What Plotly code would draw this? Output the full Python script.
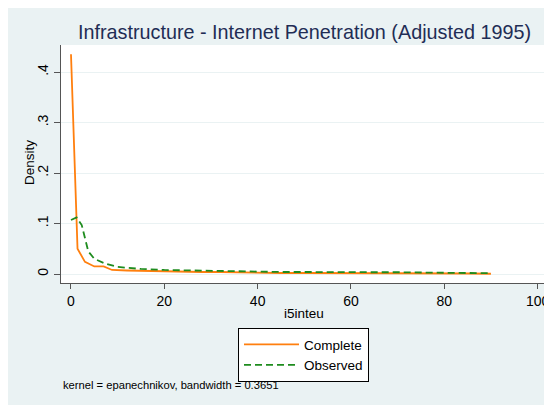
import plotly.graph_objects as go

# Data
x_complete = [0, 1.4, 3.0, 5.0, 7.0, 8.8, 12, 16, 20, 25, 28, 32, 36, 40, 45, 50, 55, 60, 65, 70, 75, 80, 85, 90]
y_complete = [0.435, 0.05, 0.024, 0.015, 0.015, 0.008, 0.007, 0.006, 0.005, 0.0035, 0.004, 0.004, 0.003, 0.002, 0.002, 0.002, 0.002, 0.002, 0.002, 0.002, 0.002, 0.0015, 0.001, 0.0005]

x_observed = [0, 1.2, 2.3, 3.7, 5.0, 7.5, 10, 15, 20, 25, 30, 35, 40, 45, 50, 55, 60, 65, 70, 75, 80, 85, 90]
y_observed = [0.107, 0.112, 0.097, 0.045, 0.03, 0.02, 0.014, 0.01, 0.008, 0.007, 0.006, 0.005, 0.004, 0.004, 0.004, 0.0035, 0.0035, 0.0035, 0.0035, 0.003, 0.003, 0.002, 0.0015]

x_ticks = [0, 20, 40, 60, 80, 100]
y_ticks = [0, 0.1, 0.2, 0.3, 0.4]
y_tick_labels = ["0", ".1", ".2", ".3", ".4"]

title_text = "Infrastructure - Internet Penetration (Adjusted 1995)"
x_title = "i5inteu"
y_title = "Density"
note_text = "kernel = epanechnikov, bandwidth = 0.3651"

BG = "#EAF2F3"
FONT = "Liberation Sans, Arial, sans-serif"

# page body adds an 8px offset; figure is sized to fill the rest of the window
W, H = 544, 397
L, R, T, B = 53, 538, 37, 275

fig = go.Figure()
fig.add_trace(go.Scatter(x=x_complete, y=y_complete, mode="lines", name="Complete",
                         line=dict(color="#FF7F0E", width=1.8)))
fig.add_trace(go.Scatter(x=x_observed, y=y_observed, mode="lines", name="Observed",
                         line=dict(color="#1E8C1E", width=1.8, dash="7px,4px")))

fig.update_layout(
    template="none",
    width=W, height=H,
    margin=dict(l=L, r=W - R, t=T, b=H - B, autoexpand=False),
    paper_bgcolor=BG, plot_bgcolor="white",
    font=dict(family=FONT, color="#000000", size=13),
    title=dict(text=title_text, x=296.5 / W, xref="container", xanchor="center",
               y=1 - 24 / H, yref="container", yanchor="middle",
               font=dict(size=19.8, color="#1F2D55", family=FONT)),
    showlegend=True,
    legend=dict(x=0.5, xanchor="center", y=(B - 320) / (B - T), yanchor="top",
                bgcolor="white", bordercolor="#000000", borderwidth=1,
                font=dict(size=13.5, family=FONT), itemwidth=55,
                tracegroupgap=0),
    xaxis=dict(range=[-2.14, 101.8], tickvals=x_ticks, showgrid=False, zeroline=False,
               automargin=False,
               showline=True, linecolor="#555555", linewidth=1.2,
               ticks="outside", ticklen=5, tickcolor="#555555",
               tickfont=dict(size=14)),
    yaxis=dict(range=[-0.0178, 0.4535], tickvals=y_ticks, ticktext=y_tick_labels,
               automargin=False,
               tickangle=-90, showgrid=True, gridcolor=BG, gridwidth=1,
               zeroline=False, showline=True, linecolor="#555555", linewidth=1.2,
               ticks="outside", ticklen=6, tickcolor="#555555",
               tickfont=dict(size=14)),
)

fig.add_annotation(text=x_title, xref="paper", yref="paper",
                   x=(295.5 - L) / (R - L), y=(B - 305) / (B - T),
                   xanchor="center", yanchor="middle", showarrow=False,
                   font=dict(size=13.5, family=FONT))
fig.add_annotation(text=y_title, xref="paper", yref="paper",
                   x=(21 - L) / (R - L), y=(B - 155) / (B - T), textangle=-90,
                   xanchor="center", yanchor="middle", showarrow=False,
                   font=dict(size=13.5, family=FONT))
fig.add_annotation(text=note_text, xref="paper", yref="paper",
                   x=(53 - L) / (R - L), y=(B - 377) / (B - T),
                   xanchor="left", yanchor="middle", showarrow=False,
                   font=dict(size=11.2, family=FONT))

fig.write_html("out.html")
